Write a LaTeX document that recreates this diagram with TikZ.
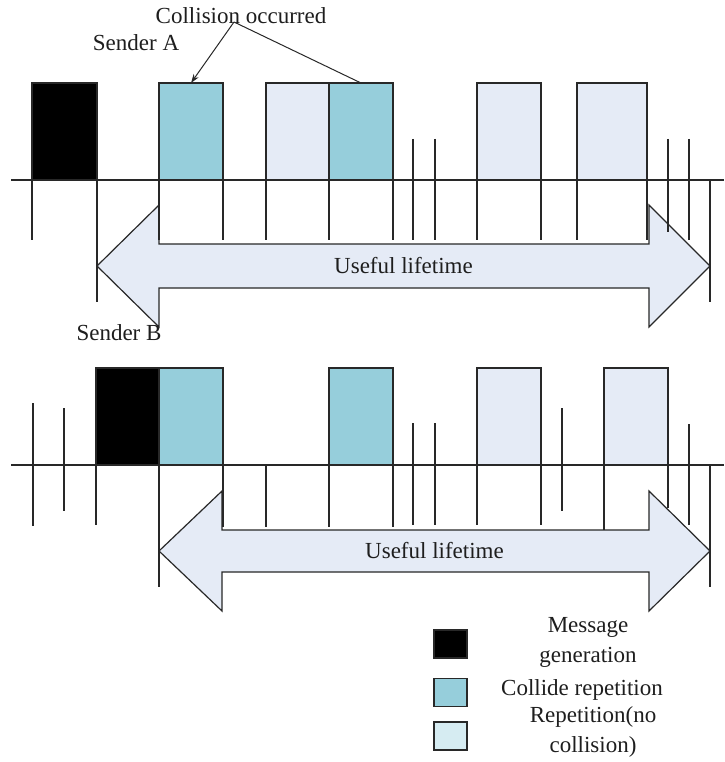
\documentclass[tikz,border=0pt]{standalone}
\usepackage{fontspec}
\setmainfont{Liberation Serif}
\usetikzlibrary{arrows.meta}
\definecolor{cyanbox}{RGB}{150,206,219}
\definecolor{lightbox}{RGB}{229,235,246}
\definecolor{legendlight}{RGB}{214,236,242}
\definecolor{ink}{RGB}{40,40,40}
\definecolor{txt}{RGB}{30,30,30}
\tikzset{
  pbox/.style={draw=ink, line width=1.2pt, inner sep=0pt, outer sep=0pt, minimum height=97},
  blackbox/.style={pbox, fill=black},
  collbox/.style={pbox, fill=cyanbox},
  repbox/.style={pbox, fill=lightbox},
  tickline/.style={draw=ink, line width=1.2pt},
  axisline/.style={draw=ink, line width=1.2pt},
  bigarrow/.style={draw=ink, line width=1.2pt, fill=lightbox, line join=miter},
  lbl/.style={text=txt, inner sep=0pt, font=\fontsize{23}{30}\selectfont},
  legsq/.style={draw=ink, line width=1.2pt, inner sep=0pt, minimum width=33, minimum height=28},
  pointer/.style={draw=ink, line width=1pt}
}
\begin{document}
\begin{tikzpicture}[x=1pt,y=-1pt]
\useasboundingbox[fill=white] (0,0) rectangle (724,762);

% ---------- Sender A ----------
\draw[bigarrow] (97,266) -- (159,205) -- (159,244) -- (649,244) -- (649,205) -- (710,266)
  -- (649,327) -- (649,288) -- (159,288) -- (159,327) -- cycle;
\node[lbl] (ulA) at (403.5,266) {Useful lifetime};

\draw[axisline] (11,180) -- (724,180);
\foreach \x/\a/\b in {32/180/240, 97/180/302, 159/180/240, 223/180/240, 266/180/240,
  329/180/240, 393/180/240, 413/139/240, 435/139/240, 477/180/240, 541/180/240,
  577/180/240, 647/180/240, 668/139/232, 689/139/240, 710/179/302}
  \draw[tickline] (\x,\a) -- (\x,\b);

\node[blackbox, minimum width=65] (a0) at (64.5,131.5) {};
\node[collbox, minimum width=64] (a1) at (191,131.5) {};
\node[repbox, minimum width=63] (a2) at (297.5,131.5) {};
\node[collbox, minimum width=64] (a3) at (361,131.5) {};
\node[repbox, minimum width=64] (a4) at (509,131.5) {};
\node[repbox, minimum width=70] (a5) at (612,131.5) {};

\node[lbl] (sa) at (136,43) {Sender A};
\node[lbl] (col) at (241,16) {Collision occurred};
\coordinate (colp) at (234,22);
\draw[pointer, -{Stealth[length=9pt,width=6pt]}] (colp) -- (a1.north);
\draw[pointer] (colp) -- (a3.north);

% ---------- Sender B ----------
\node[lbl] (sb) at (119,333) {Sender B};

\draw[bigarrow] (159,551) -- (222,491) -- (222,530) -- (649,530) -- (649,491) -- (710,551)
  -- (649,611) -- (649,572) -- (222,572) -- (222,611) -- cycle;
\node[lbl] (ulB) at (434.5,551) {Useful lifetime};

\draw[axisline] (11,465) -- (724,465);
\foreach \x/\a/\b in {33/403/526, 64/408/511, 96/465/525, 159/465/587, 223/465/527,
  266/465/527, 329/465/527, 393/465/527, 413/423/525, 435/423/525, 477/465/525,
  541/465/525, 562/408/511, 604/465/530, 668/465/508, 689/424/525, 710/465/587}
  \draw[tickline] (\x,\a) -- (\x,\b);

\node[blackbox, minimum width=63] (b0) at (127.5,416.5) {};
\node[collbox, minimum width=64] (b1) at (191,416.5) {};
\node[collbox, minimum width=64] (b2) at (361,416.5) {};
\node[repbox, minimum width=64] (b3) at (509,416.5) {};
\node[repbox, minimum width=64] (b4) at (636,416.5) {};

% ---------- Legend ----------
\node[legsq, fill=black] (l1) at (450.5,644) {};
\node[legsq, fill=cyanbox] (l2) at (450.5,692.5) {};
\node[legsq, fill=legendlight] (l3) at (450.5,736) {};
\node[lbl, align=center] (t1) at (588,642) {Message\\generation};
\node[lbl] (t2) at (582,690) {Collide repetition};
\node[lbl, align=center] (t3) at (593,731.5) {Repetition(no\\collision)};
\end{tikzpicture}
\end{document}
